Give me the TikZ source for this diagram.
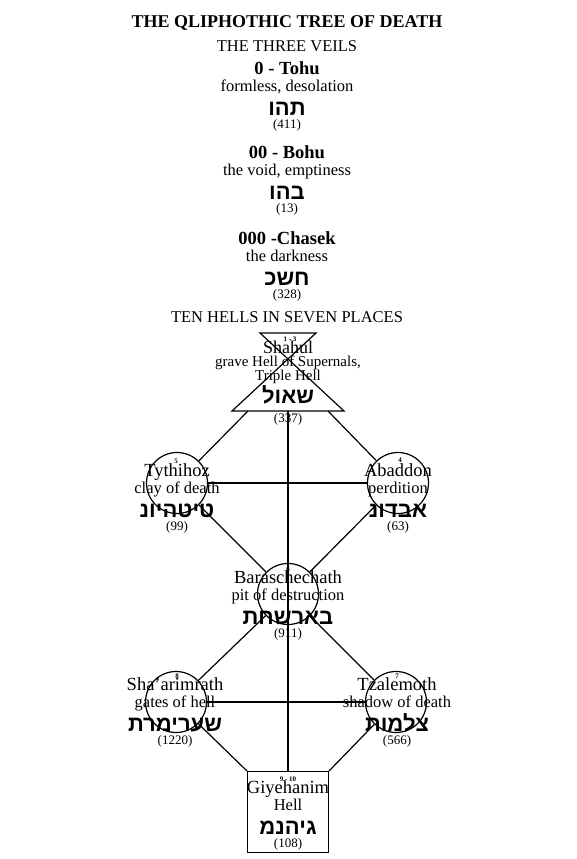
\documentclass[tikz,border=0pt]{standalone}
\usepackage{fontspec}
\setmainfont{Liberation Serif}
\newfontfamily\hebfont[Script=Hebrew]{Liberation Sans}
\usetikzlibrary{positioning}

\newcommand{\heb}[1]{{\hebfont\bfseries\fontsize{22}{22}\selectfont #1}}
\newcommand{\val}[1]{{\fontsize{13}{13}\selectfont(#1)}}
\newcommand{\nolineskip}{\lineskiplimit=-20pt\relax}
% one hell or veil: name, meaning, letters, number
\newcommand{\qblock}[4]{{\fontsize{18.5}{17.5}\selectfont #1}\\[-1pt]#2\\[7pt]\heb{#3}\\[-5pt]\val{#4}}

\begin{document}
\begin{tikzpicture}[
    x=1pt,y=-1pt,
    font=\fontsize{16.5}{17.5}\selectfont\nolineskip,
    lbl/.style={align=center,inner sep=0pt,anchor=base},
    num/.style={inner sep=0pt,font=\fontsize{7}{7}\selectfont\bfseries},
    sphere/.style={draw,circle,minimum size=61pt,inner sep=0pt,line width=1.2pt},
    hellbox/.style={draw,minimum width=81pt,minimum height=81pt,inner sep=0pt,line width=1.2pt},
    link/.style={line width=1.2pt}
  ]
  \useasboundingbox[fill=white] (0,0) rectangle (576,859);

  % heading and the three veils (blocks sit on the baseline of their last line)
  \node[lbl,font=\fontsize{18}{20}\selectfont\bfseries] (title) at (287,28) {THE QLIPHOTHIC TREE OF DEATH};
  \node[lbl] (veils)  at (287,52)  {THE THREE VEILS};
  \node[lbl] (tohu)   at (287,128) {\qblock{\bfseries 0 - Tohu}{formless, desolation}{תהו}{411}};
  \node[lbl] (bohu)   at (287,212) {\qblock{\bfseries 00 - Bohu}{the void, emptiness}{בהו}{13}};
  \node[lbl] (chasek) at (287,298) {\qblock{\bfseries 000 -Chasek}{the darkness}{חשכ}{328}};
  \node[lbl] (hells)  at (287,322) {TEN HELLS IN SEVEN PLACES};

  % Shahul, the hourglass
  \coordinate (sh-tl) at (260,333);
  \coordinate (sh-tr) at (316,333);
  \coordinate (sh-bl) at (232,411);
  \coordinate (sh-br) at (344,411);
  \coordinate (shahul) at (288,411);
  \coordinate (sh-l) at (248,411);
  \coordinate (sh-r) at (328,411);
  \draw[link] (sh-tl) -- (sh-tr) -- (sh-bl) -- (sh-br) -- cycle;

  \node[sphere] (tyth) at (177,483) {};
  \node[sphere] (abad) at (398,483) {};
  \node[sphere] (bara) at (288,594) {};
  \node[sphere] (shar) at (176,702) {};
  \node[sphere] (tzal) at (396,702) {};
  \node[hellbox] (giye) at (288,812) {};

  \draw[link] (sh-l) -- (tyth);
  \draw[link] (sh-r) -- (abad);
  \draw[link] (shahul) -- (giye);
  \draw[link] (tyth) -- (abad);
  \draw[link] (tyth) -- (bara);
  \draw[link] (abad) -- (bara);
  \draw[link] (bara) -- (shar);
  \draw[link] (bara) -- (tzal);
  \draw[link] (shar) -- (tzal);
  \draw[link] (shar) -- (giye.north west);
  \draw[link] (tzal) -- (giye.north east);

  % labels over the shapes
  \node[num] (shahul-n) at (290,339) {1 - 3};
  \node[lbl,font=\fontsize{15}{17.5}\selectfont\nolineskip] (shahul-t) at (288,422)
       {{\fontsize{18}{17.5}\selectfont Shahul}\\[-4pt]grave Hell of Supernals,\\[-4pt]Triple Hell\\[5.5pt]\heb{שאול}\\[1.5pt]\val{337}};
  \node[num] (tyth-n) at (176,461) {5};
  \node[lbl] (tyth-t) at (177,530) {\qblock{Tythihoz}{clay of death}{טיטהיונ}{99}};
  \node[num] (abad-n) at (400,460) {4};
  \node[lbl] (abad-t) at (398,530) {\qblock{Abaddon}{perdition}{אבדונ}{63}};
  \node[num] (bara-n) at (288,569) {6};
  \node[lbl] (bara-t) at (288,637) {\qblock{Baraschechath}{pit of destruction}{בארשחת}{911}};
  \node[num] (shar-n) at (177,676) {8};
  \node[lbl] (shar-t) at (175,744) {\qblock{Sha'arimrath}{gates of hell}{שערימרת}{1220}};
  \node[num] (tzal-n) at (397,676) {7};
  \node[lbl] (tzal-t) at (397,744) {\qblock{Tzalemoth}{shadow of death}{צלמות}{566}};
  \node[num] (giye-n) at (288,779) {9 - 10};
  \node[lbl] (giye-t) at (288,847) {\qblock{Giyehanim}{Hell}{גיהנמ}{108}};
\end{tikzpicture}
\end{document}
